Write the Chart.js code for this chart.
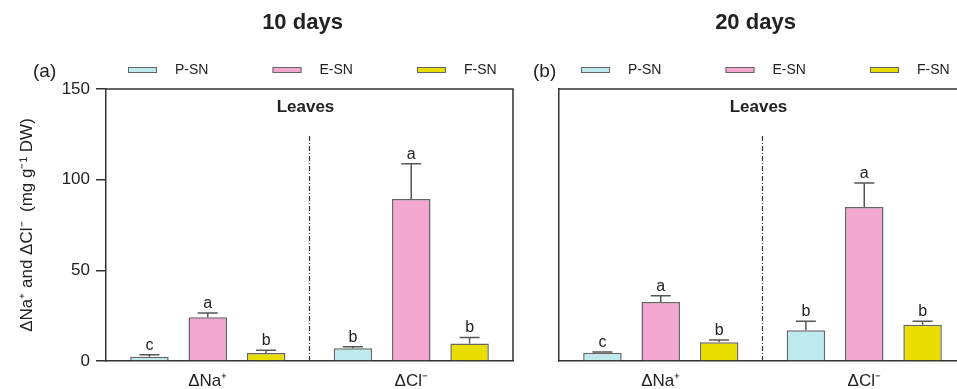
<!DOCTYPE html>
<html>
<head>
<meta charset="utf-8">
<script src="https://cdn.jsdelivr.net/npm/chart.js@4.4.1/dist/chart.umd.min.js"></script>
<style>
html, body { margin: 0; padding: 0; background: #fff; overflow: hidden; }
#wrap { position: relative; width: 957px; height: 389px; overflow: hidden; }
#c10 { position: absolute; left: 0; top: 0; }
#c20 { position: absolute; left: 520px; top: 0; }
</style>
</head>
<body>
<div id="wrap">
  <canvas id="c10" width="520" height="389"></canvas>
  <canvas id="c20" width="450" height="389"></canvas>
</div>
<script>
const categories = ['ΔNa⁺', 'ΔCl⁻'];
const groups = ['P-SN', 'E-SN', 'F-SN'];
const groupColors = ['#bee9ef', '#f3a6cf', '#e9de00'];
const yTicks = [0, 50, 100, 150];

// 10 days (means, SE, letters)
const p10 = [2.4, 7.0];
const e10 = [24.1, 89.4];
const f10 = [4.4, 9.7];
const p10Err = [1.1, 0.9];
const e10Err = [2.4, 19.4];
const f10Err = [1.5, 3.3];
const p10Sig = ['c', 'b'];
const e10Sig = ['a', 'a'];
const f10Sig = ['b', 'b'];

// 20 days
const p20 = [4.6, 16.9];
const e20 = [32.5, 84.9];
const f20 = [10.3, 20.0];
const p20Err = [0.4, 5.0];
const e20Err = [3.5, 13.3];
const f20Err = [1.3, 1.9];
const p20Sig = ['c', 'b'];
const e20Sig = ['a', 'a'];
const f20Sig = ['b', 'b'];

const FONT = '"Liberation Sans", Arial, sans-serif';
const INK = '#222';

const decor = {
  id: 'decor',
  afterDatasetsDraw(chart, args, opts) {
    const ctx = chart.ctx, area = chart.chartArea;
    const x = chart.scales.x, y = chart.scales.y;
    ctx.save();

    // error bars and letters
    chart.data.datasets.forEach((ds, i) => {
      chart.getDatasetMeta(i).data.forEach((bar, j) => {
        const top = y.getPixelForValue(ds.data[j] + ds.err[j]);
        ctx.strokeStyle = '#555';
        ctx.lineWidth = 1.5;
        ctx.beginPath();
        ctx.moveTo(bar.x, bar.y);
        ctx.lineTo(bar.x, top);
        ctx.moveTo(bar.x - 10, top);
        ctx.lineTo(bar.x + 10, top);
        ctx.stroke();
        ctx.fillStyle = INK;
        ctx.font = '16px ' + FONT;
        ctx.textAlign = 'center';
        ctx.textBaseline = 'alphabetic';
        ctx.fillText(ds.sig[j], bar.x, top - 5);
      });
    });

    // dash-dot divider
    const mid = (x.getPixelForValue(0) + x.getPixelForValue(1)) / 2;
    ctx.setLineDash([5, 2, 1, 2]);
    ctx.strokeStyle = '#333';
    ctx.lineWidth = 1.2;
    ctx.beginPath();
    ctx.moveTo(mid, area.top + 47);
    ctx.lineTo(mid, area.bottom);
    ctx.stroke();
    ctx.setLineDash([]);

    // frame top + right
    ctx.strokeStyle = '#333';
    ctx.lineWidth = 1.5;
    ctx.beginPath();
    ctx.moveTo(area.left, area.top);
    ctx.lineTo(area.right, area.top);
    ctx.lineTo(area.right, area.bottom);
    ctx.stroke();

    ctx.fillStyle = INK;
    ctx.font = 'bold 17px ' + FONT;
    ctx.textAlign = 'center';
    ctx.textBaseline = 'middle';
    ctx.fillText('Leaves', (area.left + area.right) / 2 - 4, area.top + 18);
    ctx.restore();
  },
  afterDraw(chart, args, opts) {
    const ctx = chart.ctx, area = chart.chartArea;
    ctx.save();
    ctx.fillStyle = INK;
    ctx.font = 'bold 22px ' + FONT;
    ctx.textAlign = 'center';
    ctx.textBaseline = 'middle';
    ctx.fillText(opts.title, (area.left + area.right) / 2 - 7, 23);

    ctx.font = '19px ' + FONT;
    ctx.textAlign = 'left';
    ctx.fillText(opts.panel, opts.panelX, 72);

    groups.forEach((g, i) => {
      const bx = area.left + 22 + i * 144.5;
      ctx.fillStyle = groupColors[i];
      ctx.fillRect(bx, 67, 29, 6);
      ctx.strokeStyle = '#666';
      ctx.lineWidth = 1;
      ctx.strokeRect(bx + 0.5, 67.5, 28, 5);
      ctx.fillStyle = INK;
      ctx.font = '14px ' + FONT;
      ctx.textBaseline = 'middle';
      ctx.fillText(g, bx + 47, 70);
    });
    ctx.restore();
  }
};

function makeChart(id, means, errs, sigs, opts) {
  return new Chart(document.getElementById(id).getContext('2d'), {
    type: 'bar',
    data: {
      labels: categories,
      datasets: groups.map((g, i) => ({
        label: g,
        data: means[i],
        err: errs[i],
        sig: sigs[i],
        backgroundColor: groupColors[i],
        borderColor: '#666',
        borderWidth: 1.5,
        categoryPercentage: 0.86,
        barPercentage: 0.66
      }))
    },
    options: {
      responsive: false,
      animation: false,
      devicePixelRatio: 1,
      layout: { padding: { top: 89, right: opts.padRight, left: 0, bottom: 0 } },
      plugins: {
        legend: { display: false },
        tooltip: { enabled: false },
        decor: opts
      },
      scales: {
        x: {
          grid: { display: false },
          border: { color: '#333', width: 1.5 },
          ticks: { color: INK, font: { family: FONT, size: 17 }, padding: 2 },
          afterFit(s) { s.height = 28; }
        },
        y: {
          min: yTicks[0],
          max: yTicks[yTicks.length - 1],
          grid: {
            drawOnChartArea: false,
            drawTicks: opts.showTicks,
            tickLength: 10,
            color: '#333',
            lineWidth: 1.5
          },
          border: { color: '#333', width: 1.5 },
          ticks: {
            display: opts.showTicks,
            stepSize: yTicks[1] - yTicks[0],
            color: INK,
            font: { family: FONT, size: 17 },
            padding: 6
          },
          title: {
            display: opts.showTicks,
            text: 'ΔNa⁺ and ΔCl⁻  (mg g⁻¹ DW)',
            color: INK,
            font: { family: FONT, size: 17 },
            padding: { top: 17, bottom: 0 }
          },
          afterFit(s) { s.width = opts.axisWidth; }
        }
      }
    },
    plugins: [decor]
  });
}

makeChart('c10', [p10, e10, f10], [p10Err, e10Err, f10Err], [p10Sig, e10Sig, f10Sig],
  { title: '10 days', panel: '(a)', panelX: 33, showTicks: true, axisWidth: 106, padRight: 7 });
makeChart('c20', [p20, e20, f20], [p20Err, e20Err, f20Err], [p20Sig, e20Sig, f20Sig],
  { title: '20 days', panel: '(b)', panelX: 13, showTicks: false, axisWidth: 39, padRight: 4 });
</script>
</body>
</html>
